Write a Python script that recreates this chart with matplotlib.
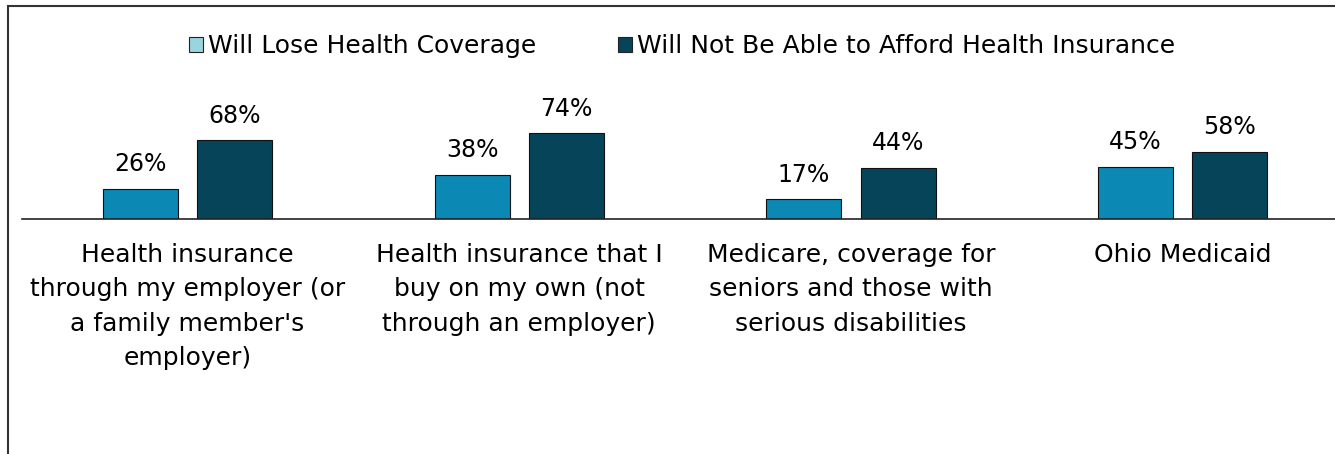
import matplotlib.pyplot as plt
import numpy as np
from matplotlib.patches import Patch, Rectangle

plt.rcParams['font.family'] = ['DejaVu Sans']

# data
categories = [
    "Health insurance\nthrough my employer (or\na family member's\nemployer)",
    "Health insurance that I\nbuy on my own (not\nthrough an employer)",
    "Medicare, coverage for\nseniors and those with\nserious disabilities",
    "Ohio Medicaid",
]
lose_coverage = [26, 38, 17, 45]
cant_afford = [68, 74, 44, 58]
series_names = ["Will Lose Health Coverage",
                "Will Not Be Able to Afford Health Insurance"]

light = '#0b88b3'
dark = '#064559'
legend_light = '#9ad5df'

fig = plt.figure(figsize=(13.35, 4.54), dpi=100)
# axes spans past the right edge like the cropped original
ax = fig.add_axes([21.6 / 1335, 235 / 454, 1327 / 1335, 116 / 454])

x = np.arange(len(categories))
w = 0.226
off = 0.142
b1 = ax.bar(x - off, lose_coverage, w, color=light, edgecolor='#111111', linewidth=0.8)
b2 = ax.bar(x + off, cant_afford, w, color=dark, edgecolor='#111111', linewidth=0.8)

for bars, vals in ((b1, lose_coverage), (b2, cant_afford)):
    for r, v in zip(bars, vals):
        ax.annotate(f'{v}%', (r.get_x() + r.get_width() / 2, v),
                    xytext=(0, 9), textcoords='offset points',
                    ha='center', va='bottom', fontsize=17, clip_on=False)

ax.set_xlim(-0.5, 3.5)
ax.set_ylim(0, 100)
ax.set_xticks(x)
ax.set_xticklabels(categories, fontsize=18, linespacing=1.55, va='top')
ax.tick_params(axis='x', length=0, pad=17)
ax.set_yticks([])
for s in ['top', 'right', 'left']:
    ax.spines[s].set_visible(False)
ax.spines['bottom'].set_linewidth(1.2)
ax.spines['bottom'].set_color('#222222')

handles = [Patch(facecolor=legend_light, edgecolor='#222222', linewidth=0.8),
           Patch(facecolor=dark, edgecolor='#222222', linewidth=0.8)]
fig.legend(handles, series_names, loc='center', bbox_to_anchor=(0.511, 1 - 46 / 454),
           ncol=2, frameon=False, fontsize=18, handlelength=0.55, handleheight=0.55,
           handletextpad=0.2, columnspacing=3.3)

# outer frame of the cropped chart area
fig.add_artist(Rectangle((8 / 1335, -0.1), 1.2, 1 - 6 / 454 + 0.1,
                         transform=fig.transFigure, fill=False,
                         edgecolor='#333333', linewidth=1.5))

fig.savefig('out.png', dpi=100)
